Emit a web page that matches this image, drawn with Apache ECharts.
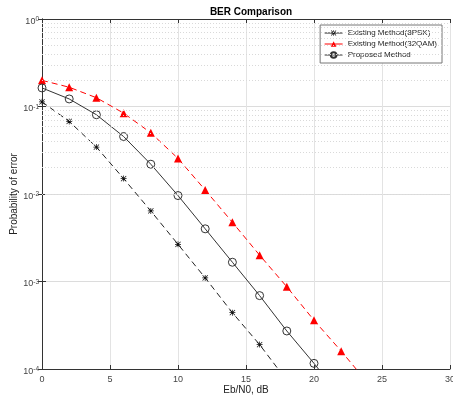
<!DOCTYPE html>
<html>
<head>
<meta charset="utf-8">
<script src="https://cdn.jsdelivr.net/npm/echarts@6/dist/echarts.min.js"></script>
<style>
  html, body { margin: 0; padding: 0; background: #fff; }
  #chart { width: 453px; height: 403px; }
</style>
</head>
<body>
<div id="chart"></div>
<script>
// Eb/N0 points (dB)
const ebn0 = [0, 2, 4, 6, 8, 10, 12, 14, 16, 18, 20, 22, 24];
// BER values
const psk8 = [0.113, 0.0675, 0.0344, 0.015, 0.0064, 0.00266, 0.0011, 0.00044, 0.00019, 0.000074];
const qam32 = [0.199, 0.166, 0.126, 0.084, 0.050, 0.0255, 0.0111, 0.00475, 0.0020, 0.00087, 0.00036, 0.00016, 0.000068];
const proposed = [0.163, 0.122, 0.0805, 0.0454, 0.0219, 0.0096, 0.0040, 0.00166, 0.00069, 0.000272, 0.000116, 0.000047];
const seriesNames = ['Existing Method(8PSK)', 'Existing Method(32QAM)', 'Proposed Method'];

// dotted minor grid lines at 2..9 x 10^k
const minorLines = [];
[-4, -3, -2, -1].forEach(k => {
    for (let m = 2; m <= 9; m++) minorLines.push({ yAxis: m * Math.pow(10, k) });
});

const asterisk = 'path://M4.4,0L5.6,0L5.6,10L4.4,10Z M0,4.4L10,4.4L10,5.6L0,5.6Z M1,0.2L9.8,9L9,9.8L0.2,1Z M9,0.2L9.8,1L1,9.8L0.2,9Z';

function pairs(arr) {
    return arr.map((v, i) => [ebn0[i], v]);
}

const font = 'Liberation Sans, Arial, sans-serif';
const axisGray = '#333';

const chart = echarts.init(document.getElementById('chart'));
chart.setOption({
    backgroundColor: '#fff',
    animation: false,
    title: {
        text: 'BER Comparison',
        left: 246, top: 2,
        textAlign: 'center',
        textStyle: { fontFamily: font, fontSize: 10, fontWeight: 'bold', color: '#000' }
    },
    legend: {
        data: seriesNames,
        orient: 'vertical',
        right: 11, top: 25,
        itemWidth: 18, itemHeight: 7, itemGap: 3,
        padding: [4, 5, 4, 4],
        backgroundColor: '#fff',
        borderColor: '#777', borderWidth: 1,
        lineStyle: { type: 'solid', width: 1 },
        textStyle: { fontFamily: font, fontSize: 8, color: '#222' }
    },
    grid: { left: 42, right: 3, top: 19, bottom: 34, outerBoundsMode: 'none' },
    xAxis: [{
        type: 'value', min: 0, max: 30, interval: 5,
        name: 'Eb/N0, dB', nameLocation: 'middle', nameGap: 16, nameMoveOverlap: false,
        nameTextStyle: { fontFamily: font, fontSize: 10, color: '#222' },
        axisLine: { onZero: false, lineStyle: { color: axisGray } },
        axisTick: { inside: true, length: 4, lineStyle: { color: axisGray } },
        axisLabel: { fontFamily: font, fontSize: 9, color: '#444', margin: 6 },
        splitLine: { show: true, lineStyle: { color: '#e3e3e3', width: 1 } }
    }, {
        type: 'value', min: 0, max: 30, interval: 5, position: 'top',
        axisLine: { onZero: false, lineStyle: { color: axisGray } },
        axisTick: { inside: true, length: 4, lineStyle: { color: axisGray } },
        axisLabel: { show: false },
        splitLine: { show: false }
    }],
    yAxis: [{
        type: 'log', logBase: 10, min: 1e-4, max: 1,
        name: 'Probability of error', nameLocation: 'middle', nameGap: 23, nameMoveOverlap: false,
        nameTextStyle: { fontFamily: font, fontSize: 10, color: '#222' },
        axisLine: { show: true, lineStyle: { color: axisGray } },
        axisTick: { inside: true, length: 4, lineStyle: { color: axisGray } },
        axisLabel: {
            fontFamily: font, fontSize: 9, color: '#444', margin: 3,
            formatter: v => '{b|10}{e|' + Math.round(Math.log10(v)) + '}',
            rich: {
                b: { fontFamily: font, fontSize: 9, color: '#444', padding: [5, 0, 0, 0] },
                e: { fontFamily: font, fontSize: 6.5, color: '#444', verticalAlign: 'bottom', padding: [0, 0, 3, 0] }
            }
        },
        splitLine: { show: true, lineStyle: { color: '#dcdcdc', width: 1 } }
    }, {
        type: 'log', logBase: 10, min: 1e-4, max: 1, position: 'right',
        axisLine: { show: true, lineStyle: { color: axisGray } },
        axisTick: { inside: true, length: 4, lineStyle: { color: axisGray } },
        axisLabel: { show: false },
        splitLine: { show: false }
    }],
    series: [{
        name: seriesNames[0],
        type: 'line',
        data: pairs(psk8),
        symbol: asterisk, symbolSize: 6,
        itemStyle: { color: '#111' },
        lineStyle: { color: '#222', width: 1, type: [6, 4] },
        markLine: {
            silent: true, symbol: 'none', label: { show: false },
            lineStyle: { color: '#d9d9d9', width: 1, type: [1, 2] },
            data: minorLines
        },
        z: 3
    }, {
        name: seriesNames[1],
        type: 'line',
        data: pairs(qam32),
        symbol: 'triangle', symbolSize: 8,
        itemStyle: { color: '#ff0000' },
        lineStyle: { color: '#ff0000', width: 1, type: [6, 4] },
        z: 3
    }, {
        name: seriesNames[2],
        type: 'line',
        data: pairs(proposed),
        symbol: 'circle', symbolSize: 8,
        itemStyle: { color: 'rgba(255,255,255,0)', borderColor: '#333', borderWidth: 1 },
        lineStyle: { color: '#333', width: 1 },
        z: 3
    }]
});
</script>
</body>
</html>
